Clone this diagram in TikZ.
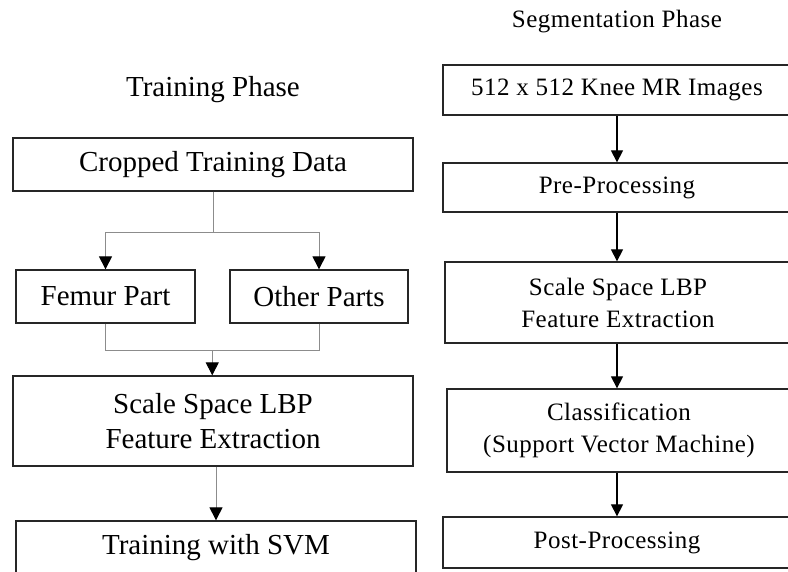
\documentclass[tikz,border=0pt]{standalone}
\usepackage{fontspec}
\setmainfont{Liberation Serif}
\newfontfamily\segfont[LetterSpace=2]{Liberation Serif}
\usepackage{tikz}
\usetikzlibrary{arrows.meta, calc}

\begin{document}
\begin{tikzpicture}[x=1pt, y=-1pt,
          trbox/.style={rectangle, draw=black!85, line width=1.3pt,
                        align=center, inner sep=0pt,
                        font=\fontsize{29}{35}\selectfont},
          sgbox/.style={rectangle, draw=black!85, line width=1.3pt,
                        align=center, inner sep=0pt,
                        font=\segfont\fontsize{25}{32}\selectfont},
          link/.style={draw=black!45, line width=1pt},
          tip/.style={-{Triangle[length=13pt, width=13pt, color=black]},
                      draw=black!45, line width=1pt},
          arr/.style={-{Triangle[length=12pt, width=12pt]}, draw=black,
                      line width=1.2pt}
        ]
        \useasboundingbox[clip] (0,0) rectangle (788,571);

        % training side
        \node[font=\fontsize{29}{35}\selectfont] (ttl) at (213, 90)
              {Training Phase};

        \node[trbox, minimum width=400pt, minimum height=53pt]
              (crop)  at (213, 164.5) {Cropped Training Data};
        \node[trbox, minimum width=179pt, minimum height=53pt]
              (femur) at (105.5, 296.5) {Femur Part};
        \node[trbox, minimum width=178pt, minimum height=53pt]
              (other) at (319, 296.5) {Other Parts};
        \node[trbox, minimum width=400pt, minimum height=90pt]
              (lbpt)  at (213, 421) {Scale Space LBP\\Feature Extraction};
        \node[trbox, minimum width=400pt, minimum height=53pt]
              (svm)   at (216, 547.5) {Training with SVM};

        \coordinate (split) at ($(crop.south)+(0,41)$);
        \coordinate (join)  at ($(femur.south)!0.5!(other.south)+(0,27)$);

        \draw[link] (crop.south) -- (split);
        \draw[tip] (split) -| (femur.north);
        \draw[tip] (split) -| (other.north);
        \draw[link] (femur.south) |- (join);
        \draw[link] (other.south) |- (join);
        \draw[tip] (join) -- (join |- lbpt.north);
        \draw[tip] (lbpt.south -| svm.north) -- (svm.north);

        % segmentation side
        \node[font=\segfont\fontsize{25}{32}\selectfont] (stl) at (617, 22)
              {Segmentation Phase};

        \node[sgbox, minimum width=348pt, minimum height=50pt]
              (mr)   at (617, 90) {512 x 512 Knee MR Images};
        \node[sgbox, minimum width=348pt, minimum height=49pt]
              (pre)  at (617, 187.5) {Pre-Processing};
        \node[sgbox, minimum width=346pt, minimum height=81pt]
              (lbps) at (618, 302.5) {Scale Space LBP\\Feature Extraction};
        \node[sgbox, minimum width=344pt, minimum height=83pt]
              (cls)  at (619, 430.5) {Classification\\(Support Vector Machine)};
        \node[sgbox, minimum width=348pt, minimum height=51pt]
              (post) at (617, 542.5) {Post-Processing};

        \foreach \a/\b in {mr/pre, pre/lbps, lbps/cls, cls/post}{
          \draw[arr] (mr |- \a.south) -- (mr |- \b.north);
        }
      \end{tikzpicture}
\end{document}
